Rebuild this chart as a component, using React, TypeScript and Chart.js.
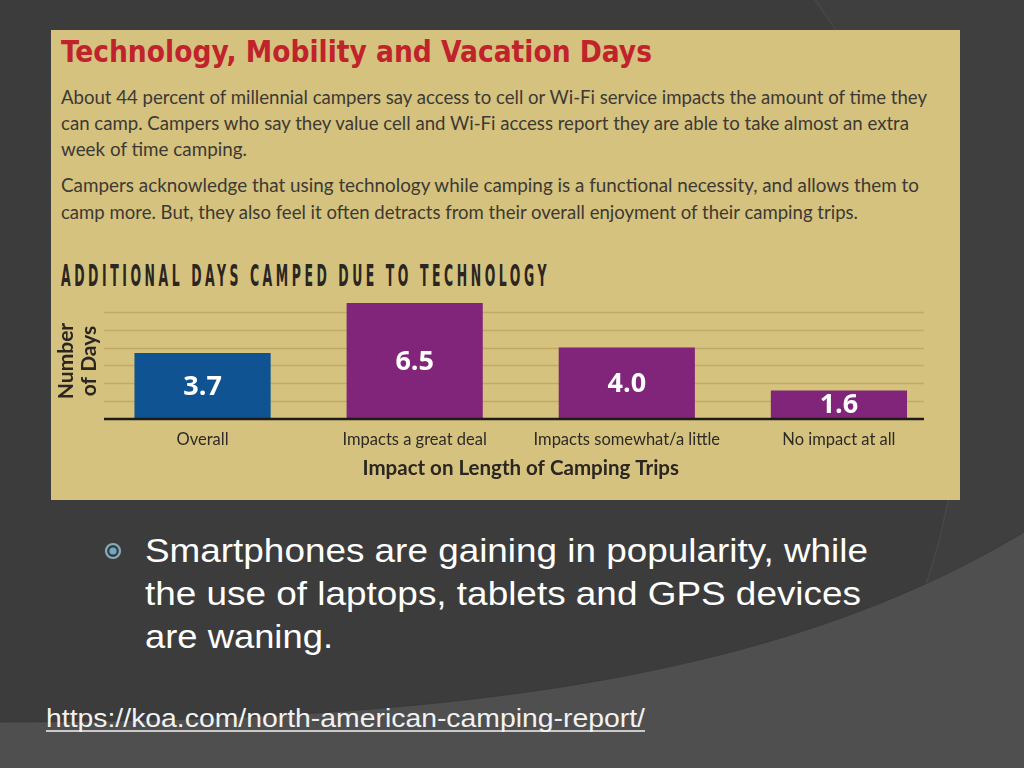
import React, { useEffect, useRef } from 'react';
import { Chart, registerables } from 'chart.js';

Chart.register(...registerables);

// ---- Data ----
const categories = ['Overall', 'Impacts a great deal', 'Impacts somewhat/a little', 'No impact at all'];
const days = [3.7, 6.5, 4.0, 1.6];
const barColors = ['#0f5392', '#80257a', '#80257a', '#80257a'];
const yMin = 0;
const yMax = 6.5;
const yStep = 1;

const titleText = 'Technology, Mobility and Vacation Days';
const paragraphLines = [
  'About 44 percent of millennial campers say access to cell or Wi-Fi service impacts the amount of time they',
  'can camp. Campers who say they value cell and Wi-Fi access report they are able to take almost an extra',
  'week of time camping.',
  'Campers acknowledge that using technology while camping is a functional necessity, and allows them to',
  'camp more. But, they also feel it often detracts from their overall enjoyment of their camping trips.',
];
const chartHeading = 'ADDITIONAL DAYS CAMPED DUE TO TECHNOLOGY';
const xAxisTitle = 'Impact on Length of Camping Trips';
const yAxisTitle = ['Number', 'of Days'];
const bulletLines = [
  'Smartphones are gaining in popularity, while',
  'the use of laptops, tablets and GPS devices',
  'are waning.',
];
const linkText = 'https://koa.com/north-american-camping-report/';

// layout helpers (text placement only)
const paraBaselines = [104, 130, 156, 192, 219];
const paraWidths = [866, 848, 186, 858, 797];
const bulletBaselines = [562, 605, 648];
const bulletWidths = [723, 716, 188];

// grid lines span slightly less than the plot width in the original
const GRID_INSET_LEFT = 7.5;
const GRID_INSET_RIGHT = 21;

const gridPlugin = {
  id: 'partialGrid',
  beforeDatasetsDraw(chart: any) {
    const { ctx, chartArea, scales } = chart;
    const y = scales.y;
    const x0 = chartArea.left + GRID_INSET_LEFT;
    const x1 = chartArea.right - GRID_INSET_RIGHT;
    ctx.save();
    ctx.strokeStyle = '#c3aa64';
    ctx.lineWidth = 1.6;
    y.ticks.forEach((t: any) => {
      if (t.value > 0 && Number.isInteger(t.value)) {
        const py = Math.round(y.getPixelForValue(t.value)) + 0.5;
        ctx.beginPath();
        ctx.moveTo(x0, py);
        ctx.lineTo(x1, py);
        ctx.stroke();
      }
    });
    ctx.restore();
  },
  afterDatasetsDraw(chart: any) {
    const { ctx, chartArea, scales } = chart;
    const y = scales.y;
    const x0 = chartArea.left + GRID_INSET_LEFT;
    const x1 = chartArea.right - GRID_INSET_RIGHT;
    const py = y.getPixelForValue(0);
    ctx.save();
    ctx.strokeStyle = '#1e1b18';
    ctx.lineWidth = 2.5;
    ctx.beginPath();
    ctx.moveTo(x0, py);
    ctx.lineTo(x1, py);
    ctx.stroke();
    ctx.restore();
  },
};

const valueLabels = {
  id: 'valueLabels',
  afterDatasetsDraw(chart: any) {
    const ctx = chart.ctx;
    const meta = chart.getDatasetMeta(0);
    ctx.save();
    ctx.fillStyle = '#ffffff';
    ctx.font = '700 27px "Open Sans", sans-serif';
    ctx.textAlign = 'center';
    ctx.textBaseline = 'middle';
    meta.data.forEach((el: any, i: number) => {
      const { x, y, base } = el.getProps(['x', 'y', 'base'], true);
      ctx.fillText(days[i].toFixed(1), x, (y + base) / 2 + 1);
    });
    ctx.restore();
  },
};

function BarChart() {
  const ref = useRef<HTMLCanvasElement | null>(null);
  useEffect(() => {
    if (!ref.current) return;
    const chart = new Chart(ref.current, {
      type: 'bar',
      data: {
        labels: categories,
        datasets: [
          {
            data: days,
            backgroundColor: barColors,
            borderWidth: 0,
            barPercentage: 0.642,
            categoryPercentage: 1,
          },
        ],
      },
      options: {
        responsive: false,
        animation: false,
        devicePixelRatio: 1,
        layout: { padding: { top: 13, right: 15, left: 0, bottom: 0 } },
        plugins: {
          legend: { display: false },
          tooltip: { enabled: false },
        },
        scales: {
          x: {
            grid: { display: false, drawTicks: false },
            border: { display: false },
            ticks: {
              color: '#2e2a26',
              font: { family: 'Lato, sans-serif', size: 16.5 },
              padding: 11,
              maxRotation: 0,
              autoSkip: false,
            },
            title: {
              display: true,
              text: xAxisTitle,
              color: '#2b2621',
              font: { family: 'Lato, sans-serif', size: 20.5, weight: 'bold', lineHeight: 1.2 },
              padding: { top: 0, bottom: 9 },
            },
            afterFit: (scale: any) => {
              scale.height = 71;
            },
          },
          y: {
            min: yMin,
            max: yMax,
            ticks: { display: false, stepSize: yStep, includeBounds: false },
            grid: { display: false, drawTicks: false },
            border: { display: false },
            title: {
              display: true,
              text: yAxisTitle,
              color: '#2b2621',
              font: { family: 'Lato, sans-serif', size: 21, weight: 'bold', lineHeight: 1.08 },
              padding: { top: 4, bottom: 0 },
            },
            afterFit: (scale: any) => {
              scale.width = 45.5;
            },
          },
        },
      },
      plugins: [gridPlugin, valueLabels],
    } as any);
    return () => chart.destroy();
  }, []);
  return (
    <canvas
      ref={ref}
      width={909}
      height={200}
      style={{ position: 'absolute', left: 51, top: 290, width: 909, height: 200 }}
    />
  );
}

export default function App() {
  return (
    <div
      style={{
        position: 'absolute',
        left: 0,
        top: 0,
        width: 1024,
        height: 768,
        overflow: 'hidden',
        background: '#3c3c3c',
      }}
    >
      <svg width={1024} height={768} style={{ position: 'absolute', left: 0, top: 0 }}>
        <rect x={0} y={0} width={1024} height={768} fill="#3c3c3c" />
        <path d="M815 0 Q1090 380 835 768 L1024 768 L1024 0 Z" fill="rgba(255,255,255,0.018)" />
        <path d="M815 0 Q1090 380 835 768" fill="none" stroke="rgba(255,255,255,0.05)" strokeWidth={1.5} />
        <path d="M0 722 C450 722 780 680 1024 532 L1024 768 L0 768 Z" fill="#4f4f4f" />
        <path d="M0 722 C450 722 780 680 1024 532" fill="none" stroke="#333" strokeWidth={1} opacity={0.6} />
        <rect x={51} y={30} width={909} height={470} fill="#d4c27e" />
        <text
          x={61}
          y={62}
          textLength={591}
          lengthAdjust="spacingAndGlyphs"
          fill="#c0232b"
          style={{ font: 'bold 31px "DejaVu Sans Condensed", "DejaVu Sans", sans-serif' }}
        >
          {titleText}
        </text>
        {paragraphLines.map((t, i) => (
          <text
            key={i}
            x={61}
            y={paraBaselines[i]}
            textLength={paraWidths[i]}
            lengthAdjust="spacingAndGlyphs"
            fill="#3d3934"
            style={{ font: '18.5px Lato, sans-serif' }}
          >
            {t}
          </text>
        ))}
        <text
          x={61}
          y={286}
          textLength={489}
          lengthAdjust="spacingAndGlyphs"
          fill="#2b2621"
          style={{ font: 'bold 31px "DejaVu Sans Condensed", "DejaVu Sans", sans-serif', letterSpacing: '8px' }}
        >
          {chartHeading}
        </text>
        <circle cx={113} cy={551} r={7} fill="none" stroke="#86adbd" strokeWidth={2.2} />
        <circle cx={113} cy={551} r={3.6} fill="#6aaac6" />
        {bulletLines.map((t, i) => (
          <text
            key={i}
            x={145}
            y={bulletBaselines[i]}
            textLength={bulletWidths[i]}
            lengthAdjust="spacingAndGlyphs"
            fill="#ffffff"
            style={{ font: '33px "Liberation Sans", Arial, sans-serif' }}
          >
            {t}
          </text>
        ))}
        <text
          x={46}
          y={727}
          textLength={599}
          lengthAdjust="spacingAndGlyphs"
          fill="#f2f2f2"
          style={{ font: '26px "Liberation Sans", Arial, sans-serif' }}
        >
          {linkText}
        </text>
        <line x1={46} y1={731} x2={645} y2={731} stroke="#f2f2f2" strokeWidth={1.5} />
      </svg>
      <BarChart />
    </div>
  );
}
